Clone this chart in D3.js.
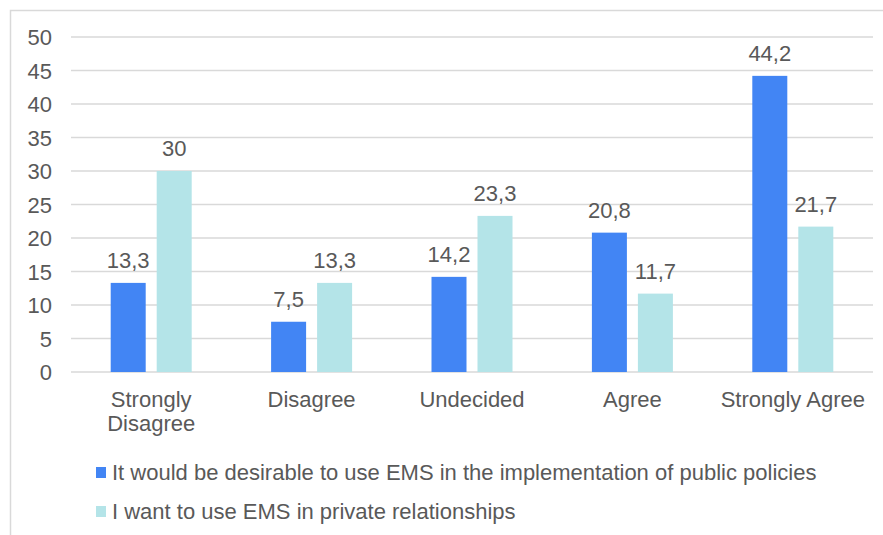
<!DOCTYPE html>
<html>
<head>
<meta charset="utf-8">
<script src="https://cdn.jsdelivr.net/npm/d3@7"></script>
<style>
  body { margin: 0; background: #fff; }
  text { font-family: "Liberation Sans", Arial, sans-serif; fill: #595959; }
</style>
</head>
<body>
<div id="chart"></div>
<script>
// data
const categories = [["Strongly", "Disagree"], ["Disagree"], ["Undecided"], ["Agree"], ["Strongly Agree"]];
const seriesNames = [
    "It would be desirable to use EMS in the implementation of public policies",
    "I want to use EMS in private relationships"
];
const publicPolicies = [13.3, 7.5, 14.2, 20.8, 44.2];
const privateRelations = [30, 13.3, 23.3, 11.7, 21.7];
const yTicks = [0, 5, 10, 15, 20, 25, 30, 35, 40, 45, 50];
const colors = ["#4285f4", "#b4e4e8"];

const W = 883, H = 535;
const margin = {t: 37, l: 71, r: 10, b: 163};
const fontSize = "22px";

const svg = d3.select("#chart").append("svg")
    .attr("width", W)
    .attr("height", H);

// outer frame
svg.append("rect")
    .attr("x", 10.5).attr("y", 10.5)
    .attr("width", W + 10).attr("height", H + 10)
    .attr("fill", "none")
    .attr("stroke", "#d9d9d9")
    .attr("stroke-width", 1.5);

const x = d3.scaleBand()
    .domain(d3.range(categories.length))
    .range([margin.l, W - margin.r]);

const y = d3.scaleLinear()
    .domain([0, 50])
    .range([H - margin.b, margin.t]);

// gridlines
svg.append("g")
    .selectAll("line")
    .data(yTicks)
    .join("line")
    .attr("x1", margin.l)
    .attr("x2", W - margin.r)
    .attr("y1", (d) => y(d))
    .attr("y2", (d) => y(d))
    .attr("stroke", "#d9d9d9")
    .attr("stroke-width", 1.5);

// y labels
svg.append("g")
    .selectAll("text")
    .data(yTicks)
    .join("text")
    .attr("x", 52)
    .attr("y", (d) => y(d) + 8)
    .attr("text-anchor", "end")
    .style("font-size", fontSize)
    .text((d) => d);

const barW = 35, offset = 23;
const series = [publicPolicies, privateRelations];

series.forEach((vals, si) => {
    const dx = si === 0 ? -offset : offset;
    const g = svg.append("g");
    g.selectAll("rect")
        .data(vals)
        .join("rect")
        .attr("x", (d, i) => x(i) + x.bandwidth() / 2 + dx - barW / 2)
        .attr("y", (d) => y(d))
        .attr("width", barW)
        .attr("height", (d) => y(0) - y(d))
        .attr("fill", colors[si]);

    g.selectAll("text")
        .data(vals)
        .join("text")
        .attr("x", (d, i) => x(i) + x.bandwidth() / 2 + dx)
        .attr("y", (d) => y(d) - 15)
        .attr("text-anchor", "middle")
        .style("font-size", fontSize)
        .text((d) => String(d).replace(".", ","));
});

// category labels
svg.append("g")
    .selectAll("text")
    .data(categories)
    .join("text")
    .attr("text-anchor", "middle")
    .style("font-size", fontSize)
    .each(function (d, i) {
        d3.select(this).selectAll("tspan")
            .data(d)
            .join("tspan")
            .attr("x", x(i) + x.bandwidth() / 2)
            .attr("y", (t, j) => 407 + j * 24)
            .text((t) => t);
    });

// legend
const legend = svg.append("g")
    .selectAll("g")
    .data(seriesNames)
    .join("g")
    .attr("transform", (d, i) => `translate(96, ${480 + i * 39})`);

legend.append("rect")
    .attr("x", 0).attr("y", -13)
    .attr("width", 10).attr("height", 11)
    .attr("fill", (d, i) => colors[i]);

legend.append("text")
    .attr("x", 16)
    .attr("y", 0)
    .style("font-size", fontSize)
    .text((d) => d);
</script>
</body>
</html>
